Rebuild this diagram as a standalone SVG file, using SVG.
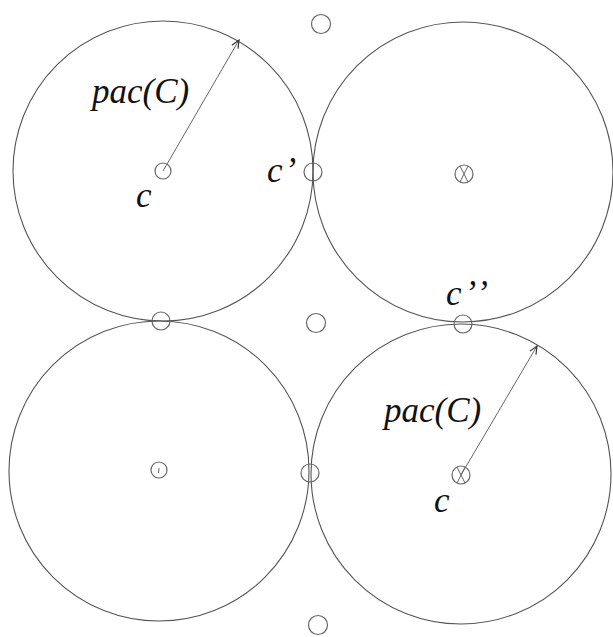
<svg xmlns="http://www.w3.org/2000/svg" width="613" height="637" viewBox="0 0 613 637">
<style>
.big{fill:none;stroke:#555;stroke-width:1.1}
.sm{fill:none;stroke:#666;stroke-width:1.2}
.ln{stroke:#666;stroke-width:1;fill:none}
.lbl{font-family:"Liberation Serif","Times New Roman",serif;font-style:italic;font-size:35px;fill:#111}
</style>
<defs>
<marker id="ah" markerWidth="10" markerHeight="10" refX="9" refY="5" orient="auto" markerUnits="userSpaceOnUse">
<path d="M1,1.5 L9,5 L1,8.5" fill="none" stroke="#333" stroke-width="1.2"/>
</marker>
</defs>
<rect width="613" height="637" fill="#fff"/>
<g id="circle-tl"><circle class="big" cx="163" cy="171" r="150"/></g>
<g id="circle-tr"><circle class="big" cx="463" cy="172" r="150"/></g>
<g id="circle-bl"><circle class="big" cx="159" cy="471" r="150"/></g>
<g id="circle-br"><circle class="big" cx="461" cy="474" r="150"/></g>
<g id="center-tl"><circle class="sm" cx="163" cy="171" r="8"/></g>
<g id="center-tr"><circle class="sm" cx="464" cy="174" r="9"/><path class="ln" d="M460,166 L468,182 M468,166 L460,182"/></g>
<g id="center-bl"><circle class="sm" cx="159" cy="470" r="8"/><path class="ln" d="M159,468 L158.5,473"/></g>
<g id="center-br"><circle class="sm" cx="461" cy="475" r="9"/><path class="ln" d="M457,467 L465,483 M465,467 L457,483"/></g>
<g id="pt-top"><circle class="sm" cx="321" cy="24" r="9.5"/></g>
<g id="pt-cprime"><circle class="sm" cx="313" cy="172" r="9"/></g>
<g id="pt-mid"><circle class="sm" cx="316" cy="323" r="9.5"/></g>
<g id="pt-left"><circle class="sm" cx="161" cy="321" r="9"/></g>
<g id="pt-cpp"><circle class="sm" cx="463" cy="324" r="9"/></g>
<g id="pt-bottommid"><circle class="sm" cx="310" cy="473" r="9"/></g>
<g id="pt-bottom"><circle class="sm" cx="318" cy="625" r="9.5"/></g>
<g id="connectors">
<line class="ln" x1="163" y1="171" x2="239" y2="40" marker-end="url(#ah)"/>
<line class="ln" x1="461" y1="475" x2="537" y2="346" marker-end="url(#ah)"/>
</g>
<g id="labels">
<text class="lbl" x="92" y="103" font-size="36">pac(C)</text>
<text class="lbl" x="384" y="422" font-size="36">pac(C)</text>
<text class="lbl" x="136" y="207">c</text>
<text class="lbl" x="267" y="182">c<tspan dx="2">’</tspan></text>
<text class="lbl" x="446" y="305">c<tspan dx="3">’</tspan><tspan dx="4">’</tspan></text>
<text class="lbl" x="434" y="512">c</text>
</g>
</svg>
